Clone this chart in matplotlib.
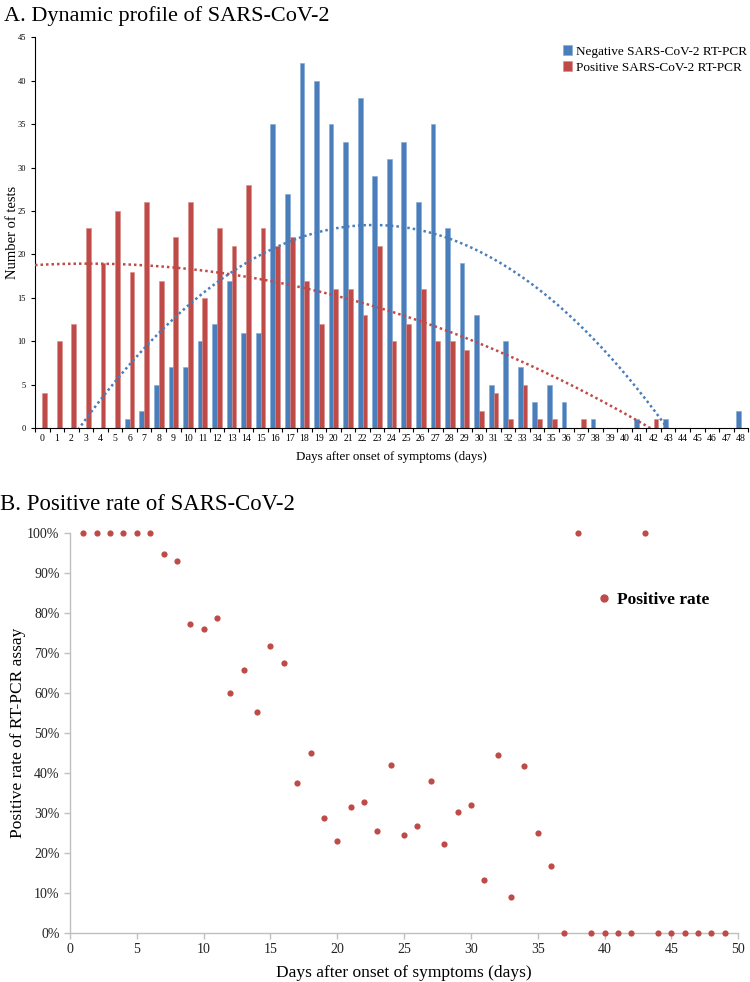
import numpy as np
import matplotlib
matplotlib.use("Agg")
import matplotlib.pyplot as plt
from matplotlib.lines import Line2D

plt.rcParams['font.family'] = ['Liberation Serif', 'DejaVu Serif']

days = list(range(49))
negative = [0, 0, 0, 0, 0, 0, 1, 2, 5, 7, 7, 10, 12, 17, 11, 11, 35, 27, 42, 40,
            35, 33, 38, 29, 31, 33, 26, 35, 23, 19, 13, 5, 10, 7, 3, 5, 3, 0, 1, 0,
            0, 1, 0, 1, 0, 0, 0, 0, 2]
positive = [4, 10, 12, 23, 19, 25, 18, 26, 17, 22, 26, 15, 23, 21, 28, 23, 21, 22, 17, 12,
            16, 16, 13, 21, 10, 12, 16, 10, 10, 9, 2, 4, 1, 5, 1, 1, 0, 1, 0, 0,
            0, 0, 1, 0, 0, 0, 0, 0, 0]

rate_x = list(range(1, 50))
rate = [1.00, 1.00, 1.00, 1.00, 1.00, 1.00, 0.947, 0.929, 0.773, 0.759,
        0.788, 0.600, 0.657, 0.553, 0.718, 0.676, 0.375, 0.449, 0.288, 0.231,
        0.314, 0.327, 0.255, 0.420, 0.244, 0.267, 0.381, 0.222, 0.303, 0.321,
        0.133, 0.444, 0.091, 0.417, 0.250, 0.167, 0.0, 1.00, 0.0, 0.0,
        0.0, 0.0, 1.00, 0.0, 0.0, 0.0, 0.0, 0.0, 0.0]

blue = '#4a7ebb'
red = '#be4b48'

fig = plt.figure(figsize=(7.5, 9.82), dpi=100)

# ---------- Panel A ----------
ax1 = fig.add_axes([0.0467, 0.564, 0.951, 0.398])
x = np.array(days)
w = 0.33
ax1.bar(x - w / 2, negative, width=w, color=blue, edgecolor='#7fa6d6', linewidth=0.4,
        label='Negative SARS-CoV-2 RT-PCR', zorder=2)
ax1.bar(x + w / 2, positive, width=w, color=red, edgecolor='#d98a88', linewidth=0.4,
        label='Positive SARS-CoV-2 RT-PCR', zorder=2)

xf = np.linspace(-0.5, 48.5, 400)
pn = np.polyfit(x, negative, 2)
pp = np.polyfit(x, positive, 2)
ax1.plot(xf, np.polyval(pn, xf), color=blue, linestyle=(0, (1, 1.2)), linewidth=1.8, zorder=3)
ax1.plot(xf, np.polyval(pp, xf), color=red, linestyle=(0, (1, 1.2)), linewidth=1.8, zorder=3)

ax1.set_xlim(-0.5, 48.5)
ax1.set_ylim(0, 45)
ax1.set_yticks(range(0, 46, 5))
ax1.set_xticks(days)
ax1.set_xticklabels([str(d) for d in days], fontsize=7)
ax1.set_xticks(np.arange(-0.5, 49, 1), minor=True)
ax1.tick_params(axis='x', which='major', length=0, pad=4)
ax1.tick_params(axis='x', which='minor', length=3, width=0.8, direction='out')
ax1.tick_params(axis='y', labelsize=6, length=3, width=0.8, direction='out')
for s in ['top', 'right']:
    ax1.spines[s].set_visible(False)
ax1.spines['left'].set_linewidth(0.8)
ax1.spines['bottom'].set_linewidth(0.8)
ax1.set_xlabel('Days after onset of symptoms (days)', fontsize=9.4, labelpad=6)
ax1.set_ylabel('Number of tests', fontsize=10.5, labelpad=-1)
leg1 = ax1.legend(loc='upper right', bbox_to_anchor=(1.015, 1.01), frameon=False,
                  fontsize=9.5, handlelength=0.7, handleheight=0.7, handletextpad=0.3,
                  labelspacing=0.3)
fig.text(0.005, 0.984, 'A. Dynamic profile of SARS-CoV-2', fontsize=16, va='center', ha='left')

# ---------- Panel B ----------
ax2 = fig.add_axes([0.0933, 0.0499, 0.891, 0.4073])
ax2.scatter(rate_x, rate, s=20, color=red, zorder=3, clip_on=False, linewidths=0)
ax2.set_xlim(0, 50)
ax2.set_ylim(0, 1)
ax2.set_xticks(range(0, 51, 5))
ax2.set_yticks(np.arange(0, 1.01, 0.1))
ax2.set_yticklabels([f'{int(round(v * 100))}%' for v in np.arange(0, 1.01, 0.1)])
for s in ['top', 'right']:
    ax2.spines[s].set_visible(False)
for s in ['left', 'bottom']:
    ax2.spines[s].set_color('#bfbfbf')
    ax2.spines[s].set_linewidth(1.0)
ax2.tick_params(axis='both', colors='#bfbfbf', length=4, width=1.0, direction='out',
                labelsize=10, labelcolor='#222222')
ax2.set_xlabel('Days after onset of symptoms (days)', fontsize=12.5, labelpad=6)
ax2.set_ylabel('Positive rate of RT-PCR assay', fontsize=12.5, labelpad=1)
h = Line2D([], [], marker='o', linestyle='none', color=red, markersize=5)
ax2.legend([h], ['Positive rate'], loc='center left', bbox_to_anchor=(0.765, 0.833),
           frameon=False, handlelength=0.8, handletextpad=0.35,
           prop={'weight': 'bold', 'size': 12.5})
fig.text(0.0, 0.486, 'B. Positive rate of SARS-CoV-2', fontsize=16.4, va='center', ha='left')

fig.savefig('out.png', dpi=100)
